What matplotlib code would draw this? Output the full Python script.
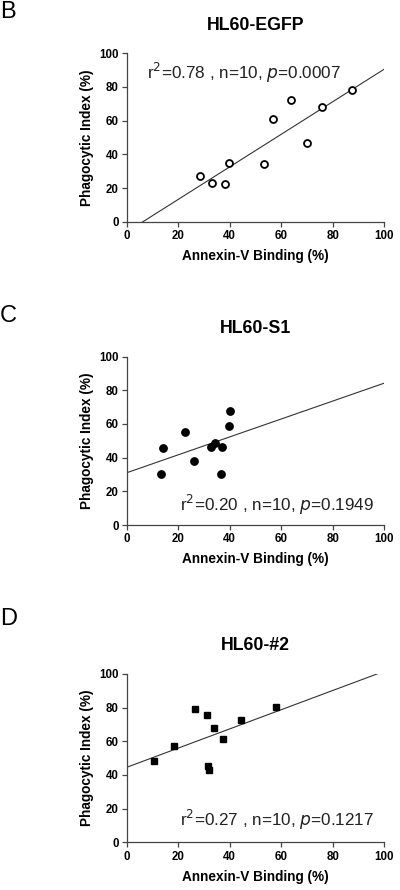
import numpy as np
import matplotlib
matplotlib.use("Agg")
import matplotlib.pyplot as plt

plt.rcParams["font.family"] = ["Liberation Sans", "DejaVu Sans"]

# data
egfp_x = [28.3, 33.2, 38.3, 39.6, 53.3, 56.7, 63.8, 70.0, 75.8, 87.6]
egfp_y = [27.3, 23.0, 22.6, 34.9, 34.3, 61.2, 72.5, 46.7, 68.1, 78.0]

s1_x = [13.3, 14.2, 22.5, 25.9, 32.6, 34.3, 37.0, 36.6, 39.6, 40.0]
s1_y = [30.3, 45.7, 55.2, 38.2, 46.1, 48.9, 46.3, 30.3, 59.0, 67.7]

n2_x = [10.7, 18.2, 26.3, 31.3, 33.8, 37.5, 31.7, 32.1, 44.5, 58.0]
n2_y = [48.3, 57.0, 79.0, 75.8, 68.1, 61.2, 45.1, 42.8, 72.5, 80.4]

# regression lines as drawn (intercept, slope)
egfp_fit = (-6.0, 0.965)
s1_fit = (31.1, 0.531)
n2_fit = (44.6, 0.569)

panels = ["B", "C", "D"]
titles = ["HL60-EGFP", "HL60-S1", "HL60-#2"]
stats = ["r$^2$=0.78 , n=10, $p$=0.0007",
         "r$^2$=0.20 , n=10, $p$=0.1949",
         "r$^2$=0.27 , n=10, $p$=0.1217"]

fig = plt.figure(figsize=(4, 8.9), dpi=100)

bottoms = [0.7509, 0.4101, 0.0536]
xs = [egfp_x, s1_x, n2_x]
ys = [egfp_y, s1_y, n2_y]
fits = [egfp_fit, s1_fit, n2_fit]
styles = [dict(marker="o", mfc="white", mec="black", mew=1.3, ms=5),
          dict(marker="o", mfc="black", mec="black", ms=5.3),
          dict(marker="s", mfc="black", mec="black", ms=5)]
stat_pos = [(0.078, 0.883), (0.206, 0.119), (0.206, 0.132)]
letter_y = [0.999, 0.657, 0.317]

for i in range(3):
    ax = fig.add_axes([0.3175, bottoms[i], 0.6425, 0.1892])
    ax.plot(xs[i], ys[i], linestyle="none", zorder=3, **styles[i])
    b, m = fits[i]
    lx = np.linspace(0, 100, 200)
    ax.plot(lx, b + m * lx, color="#333333", lw=0.8, zorder=2)
    ax.set_xlim(0, 100)
    ax.set_ylim(0, 100)
    ax.set_xticks(range(0, 101, 20))
    ax.set_yticks(range(0, 101, 20))
    for side in ["top", "right"]:
        ax.spines[side].set_visible(False)
    for side in ["left", "bottom"]:
        ax.spines[side].set_color("#444444")
        ax.spines[side].set_linewidth(0.9)
    ax.tick_params(direction="out", length=3.5, width=0.9, color="#444444",
                   labelsize=8.3, pad=2.5)
    for lab in ax.get_xticklabels() + ax.get_yticklabels():
        lab.set_fontweight("bold")
    ax.set_xlabel("Annexin-V Binding (%)", fontsize=9.8, fontweight="bold",
                  labelpad=5)
    ax.set_ylabel("Phagocytic Index (%)", fontsize=9.8, fontweight="bold",
                  labelpad=4)
    ax.set_title(titles[i], fontsize=12.8, fontweight="bold", pad=17)
    ax.text(stat_pos[i][0], stat_pos[i][1], stats[i], transform=ax.transAxes,
            fontsize=12.3, color="#222222", va="center", ha="left")
    fig.text(0.0, letter_y[i], panels[i], fontsize=17, va="top",
             ha="left")

fig.savefig("out.png", dpi=100)
